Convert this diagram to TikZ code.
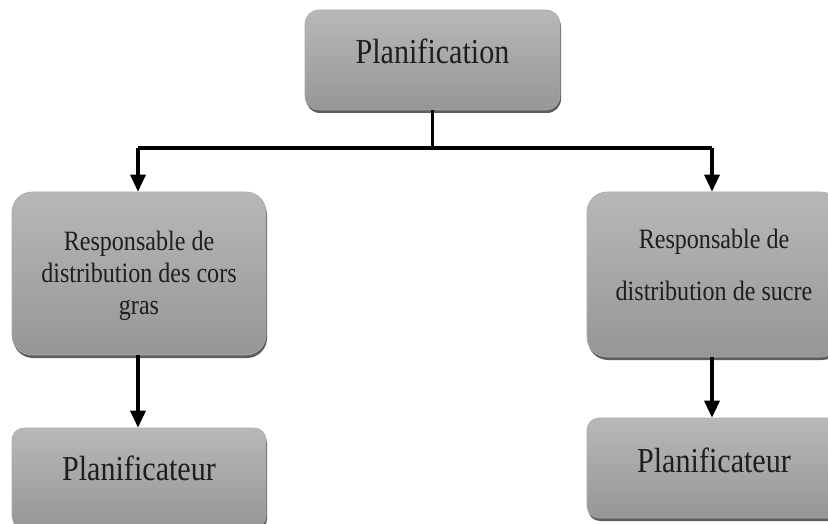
\documentclass[tikz,border=0pt]{standalone}
\usepackage{fontspec}
\setmainfont[FakeStretch=0.86]{Liberation Serif}
\usetikzlibrary{arrows.meta,shadows}
\definecolor{boxtop}{RGB}{184,184,184}
\definecolor{boxbot}{RGB}{150,150,150}
\definecolor{boxline}{RGB}{170,170,170}
\definecolor{txtc}{RGB}{30,30,30}
\begin{document}
\begin{tikzpicture}[x=1pt,y=-1pt,
  box/.style={rectangle, rounded corners=#1, top color=boxtop, bottom color=boxbot,
    draw=boxline, line width=0.6pt, inner sep=0pt,
    drop shadow={shadow xshift=1pt, shadow yshift=-3pt, fill=black!70, opacity=0.9}},
  bigtxt/.style={text=txtc, font=\fontsize{35}{40}\selectfont, inner sep=0pt},
  midtxt/.style={text=txtc, font=\fontsize{28}{#1}\selectfont, align=center, inner sep=0pt},
  line/.style={line width=3.3pt, black},
  arr/.style={line width=3.3pt, black, -{Triangle[length=17pt,width=15pt]}}]
\clip (0,0) rectangle (828,524);
\fill[white] (0,0) rectangle (828,524);
% boxes
\node[box=14pt, minimum width=255pt, minimum height=100pt] (top) at (432.5,60) {};
\node[box=20pt, minimum width=254pt, minimum height=163pt] (resp1) at (139,273.5) {};
\node[box=20pt, minimum width=254pt, minimum height=165pt] (resp2) at (714,274.5) {};
\node[box=12pt, minimum width=254pt, minimum height=100pt] (plan1) at (139,478) {};
\node[box=12pt, minimum width=254pt, minimum height=100pt] (plan2) at (714,468) {};
% texts
\node[bigtxt] (topt) at ([yshift=9pt]top.center) {Planification};
\node[midtxt=32] (resp1t) at ([yshift=-2pt]resp1.center) {Responsable de\\distribution des cors\\gras};
\node[midtxt=52] (resp2t) at ([yshift=10pt]resp2.center) {Responsable de\\distribution de sucre};
\node[bigtxt] (plan1t) at ([yshift=10pt]plan1.center) {Planificateur};
\node[bigtxt] (plan2t) at ([yshift=8pt]plan2.center) {Planificateur};
% connectors
\coordinate (jl) at (138,148);
\coordinate (jr) at (712,148);
\draw[line] (top.south) -- (top.south |- jl);
\draw[line] (jl) -- (jr);
\draw[arr] (jl) -- (jl |- resp1.north);
\draw[arr] (jr) -- (jr |- resp2.north);
\draw[arr] (resp1.south -| jl) -- (plan1.north -| jl);
\draw[arr] (resp2.south -| jr) -- (plan2.north -| jr);
\end{tikzpicture}
\end{document}
